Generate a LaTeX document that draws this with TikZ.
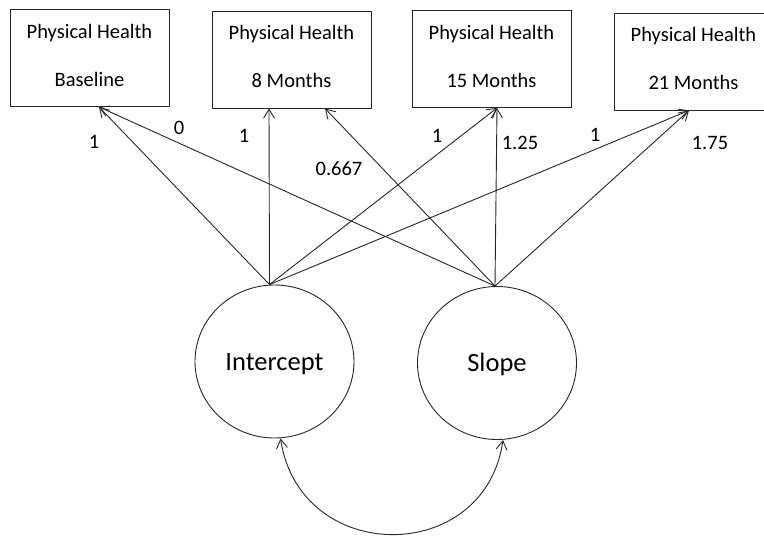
\documentclass[tikz,border=0pt]{standalone}
\usepackage{fontspec}
\setmainfont{Carlito}
\usetikzlibrary{arrows.meta,shapes.geometric}
\begin{document}
\begin{tikzpicture}[x=1pt,y=-1pt,
  box/.style={draw=black!85,line width=0.9pt,minimum width=159pt,minimum height=97pt,inner sep=0pt,align=center,font=\fontsize{20.5}{48}\selectfont,text height=62pt,text depth=6pt},
  latent/.style={ellipse,draw=black!85,line width=0.9pt,minimum width=159pt,minimum height=153pt,inner sep=0pt,font=\fontsize{26.5}{30}\selectfont,text height=17pt,text depth=0pt},
  path/.style={draw=black!85,line width=0.9pt,-{Straight Barb[length=9pt,width=11pt]}},
  lbl/.style={font=\fontsize{20.5}{24}\selectfont,inner sep=0pt}]
\useasboundingbox (0,0) rectangle (764,536);
\node[box] (b1) at (89.5,58) {Physical Health\\Baseline};
\node[box] (b2) at (291.5,59.5) {Physical Health\\8 Months};
\node[box] (b3) at (491.5,59) {Physical Health\\15 Months};
\node[box] (b4) at (693.5,61.5) {Physical Health\\21 Months};
\node[latent] (I) at (274.5,361.5) {Intercept};
\node[latent] (S) at (497,363) {Slope};
\draw[path] ([xshift=-5pt]I.north) -- ([xshift=9.5pt]b1.south);
\draw[path] ([xshift=-5pt]I.north) -- ([xshift=-22.5pt]b2.south);
\draw[path] ([xshift=-5pt]I.north) -- ([xshift=5.5pt]b3.south);
\draw[path] ([xshift=-5pt]I.north) -- ([xshift=-4.5pt]b4.south);
\draw[path] ([xshift=-2pt]S.north) -- ([xshift=9.5pt]b1.south);
\draw[path] ([xshift=-2pt]S.north) -- ([xshift=33.5pt]b2.south);
\draw[path] ([xshift=-2pt]S.north) -- ([xshift=5.5pt]b3.south);
\draw[path] ([xshift=-2pt]S.north) -- ([xshift=-4.5pt]b4.south);
\draw[draw=black!85,line width=0.9pt,{Straight Barb[length=9pt,width=11pt]}-{Straight Barb[length=9pt,width=11pt]}]
  ([xshift=6pt]I.south) .. controls (300,566) and (485,566) .. ([xshift=6pt]S.south);
\node[lbl] (l1) at (94,142) {1};
\node[lbl] (l2) at (179,128) {0};
\node[lbl] (l3) at (244,136) {1};
\node[lbl] (l4) at (339,169) {0.667};
\node[lbl] (l5) at (437,136) {1};
\node[lbl] (l6) at (520,143) {1.25};
\node[lbl] (l7) at (595,135) {1};
\node[lbl] (l8) at (710,143) {1.75};
\end{tikzpicture}
\end{document}
